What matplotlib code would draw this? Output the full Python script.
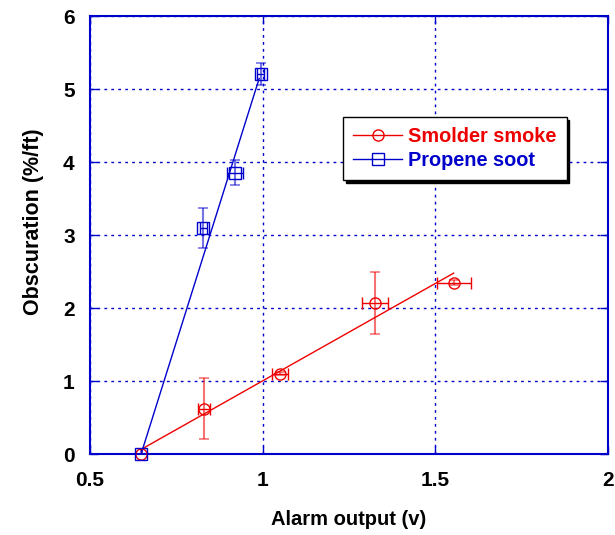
import matplotlib
matplotlib.use("Agg")
import matplotlib.pyplot as plt
from matplotlib.ticker import MultipleLocator

plt.rcParams['font.family'] = ['Liberation Sans', 'DejaVu Sans']

# Smolder smoke data
smolder_x = [0.648, 0.830, 1.051, 1.325, 1.554]
smolder_y = [0.0, 0.62, 1.10, 2.07, 2.35]
smolder_xerr = [0.0, 0.017, 0.023, 0.037, 0.049]
smolder_yerr = [0.0, 0.42, 0.02, 0.43, 0.03]
smolder_fit_x = [0.647, 1.553]
smolder_fit_y = [0.06, 2.48]

# Propene soot data
propene_x = [0.648, 0.828, 0.920, 0.995]
propene_y = [0.0, 3.10, 3.86, 5.21]
propene_xerr = [0.0, 0.010, 0.024, 0.010]
propene_yerr = [0.0, 0.28, 0.17, 0.15]
propene_fit_x = [0.650, 0.990]
propene_fit_y = [0.03, 5.15]

red = '#ee0000'
blue = '#0000cc'

fig = plt.figure(figsize=(6.15, 5.35), dpi=100)
ax = fig.add_axes([0.1463, 0.1514, 0.8423, 0.8178])

# error bars (y lighter)
ax.errorbar(smolder_x, smolder_y, yerr=smolder_yerr, fmt='none', ecolor=red,
            alpha=0.55, elinewidth=1.5, capsize=3.5, capthick=1.2, zorder=2)
ax.errorbar(smolder_x, smolder_y, xerr=smolder_xerr, fmt='none', ecolor=red,
            elinewidth=1.0, capsize=4, capthick=1.0, zorder=2)
ax.errorbar(propene_x, propene_y, yerr=propene_yerr, fmt='none', ecolor=blue,
            alpha=0.55, elinewidth=1.5, capsize=3.5, capthick=1.2, zorder=2)
ax.errorbar(propene_x, propene_y, xerr=propene_xerr, fmt='none', ecolor=blue,
            elinewidth=1.0, capsize=4, capthick=1.0, zorder=2)

# fit lines
ax.plot(smolder_fit_x, smolder_fit_y, color=red, lw=1.0, zorder=3)
ax.plot(propene_fit_x, propene_fit_y, color=blue, lw=1.0, zorder=3)

# markers
ax.plot(smolder_x, smolder_y, 'o', mfc='none', mec=red, ms=8, mew=1.0,
        zorder=5, clip_on=False)
ax.plot(propene_x, propene_y, 's', mfc='none', mec=blue, ms=8, mew=1.0,
        zorder=5, clip_on=False)

# legend handles
h1, = ax.plot([], [], '-o', color=red, mfc='none', mec=red, ms=8, lw=1.0)
h2, = ax.plot([], [], '-s', color=blue, mfc='none', mec=blue, ms=8, lw=1.0)
leg = ax.legend([h1, h2], ['Smolder smoke', 'Propene soot'],
                loc='upper left', bbox_to_anchor=(0.488, 0.770),
                prop={'weight': 'bold', 'size': 14.3}, handlelength=2.5,
                frameon=True, fancybox=False, shadow={'color': 'black', 'alpha': 1.0},
                edgecolor='black', borderpad=0.5, labelspacing=0.25,
                handletextpad=0.3, borderaxespad=0)
leg.get_frame().set_linewidth(1.0)
leg.set_zorder(10)
for t, c in zip(leg.get_texts(), [red, blue]):
    t.set_color(c)

ax.set_xlim(0.5, 2.0)
ax.set_ylim(0, 6)
ax.xaxis.set_major_locator(MultipleLocator(0.5))
ax.yaxis.set_major_locator(MultipleLocator(1))
ax.set_xticks([0.5, 1.0, 1.5, 2.0])
ax.set_xticklabels(['0.5', '1', '1.5', '2'])

ax.grid(True, color=blue, linestyle=(0, (2, 3)), linewidth=1.0)
ax.set_axisbelow(True)
for s in ax.spines.values():
    s.set_color(blue)
    s.set_linewidth(1.5)
ax.tick_params(direction='in', length=6, color=blue, width=1.0,
               top=True, right=True, labelsize=15)
ax.tick_params(axis='x', pad=12)
ax.tick_params(axis='y', pad=11)
for lbl in ax.get_xticklabels() + ax.get_yticklabels():
    lbl.set_fontweight('bold')
    lbl.set_color('black')

ax.set_xlabel('Alarm output (v)', fontsize=14.5, fontweight='bold', labelpad=14.5)
ax.set_ylabel('Obscuration (%/ft)', fontsize=15.5, fontweight='bold')
ax.yaxis.set_label_coords(-0.088, 0.530)

fig.savefig('out.png', dpi=100)
